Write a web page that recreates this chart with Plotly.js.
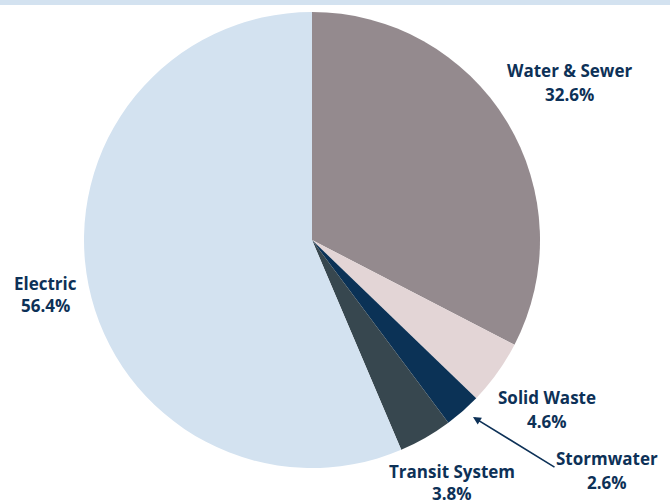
<!DOCTYPE html>
<html>
<head>
<meta charset="utf-8">
<script src="https://cdn.plot.ly/plotly-3.0.1.min.js"></script>
<style>html,body{margin:0;padding:0;background:#fff;}#chart{width:670px;height:504px;}</style>
</head>
<body>
<div id="chart"></div>
<script>
const categories = ["Water & Sewer", "Solid Waste", "Stormwater", "Transit System", "Electric"];
const shares = [32.6, 4.6, 2.6, 3.8, 56.4];
const colors = ["#948a8e", "#e3d5d6", "#0b3256", "#37474f", "#d3e2f0"];

const W = 670, H = 504;
const textColor = "#0d3157";
const font = {family: "'Open Sans', Inter, sans-serif", size: 17, color: textColor, weight: 700};

// label centers in pixels: [x, y of name line, y of percent line]
const labelPos = {
  "Water & Sewer": [569, 71, 94],
  "Solid Waste": [547, 397, 421],
  "Stormwater": [607, 458, 482],
  "Transit System": [452, 471, 493],
  "Electric": [45, 283, 305]
};

const annotations = [];
categories.forEach((c, i) => {
  const p = labelPos[c];
  annotations.push({
    x: p[0] / W, y: 1 - p[1] / H, xref: "paper", yref: "paper",
    xanchor: "center", yanchor: "middle",
    text: "<b>" + c + "</b>", showarrow: false, font: font
  });
  annotations.push({
    x: p[0] / W, y: 1 - p[2] / H, xref: "paper", yref: "paper",
    xanchor: "center", yanchor: "middle",
    text: "<b>" + shares[i].toFixed(1) + "%</b>", showarrow: false, font: font
  });
});
annotations.push({
  x: 473 / W, y: 1 - 417 / H, xref: "paper", yref: "paper",
  text: "", showarrow: true, ax: 83, ay: 51, axref: "pixel", ayref: "pixel",
  arrowhead: 2, arrowsize: 1, arrowwidth: 1.6, arrowcolor: textColor
});

const data = [{
  type: "pie",
  labels: categories,
  values: shares,
  sort: false,
  direction: "clockwise",
  rotation: 0,
  textinfo: "none",
  hoverinfo: "label+percent",
  marker: {colors: colors, line: {color: "#ffffff", width: 0}},
  domain: {x: [84 / W, 540 / W], y: [1 - 468 / H, 1 - 12 / H]}
}];

const layout = {
  width: W, height: H,
  margin: {l: 0, r: 0, t: 0, b: 0},
  showlegend: false,
  paper_bgcolor: "#ffffff",
  annotations: annotations,
  shapes: [{type: "rect", xref: "paper", yref: "paper", x0: 0, x1: 1, y0: 1 - 5 / H, y1: 1, fillcolor: "#d3e2f0", line: {width: 0}}]
};

Plotly.newPlot("chart", data, layout, {displayModeBar: false, staticPlot: true});
</script>
</body>
</html>
